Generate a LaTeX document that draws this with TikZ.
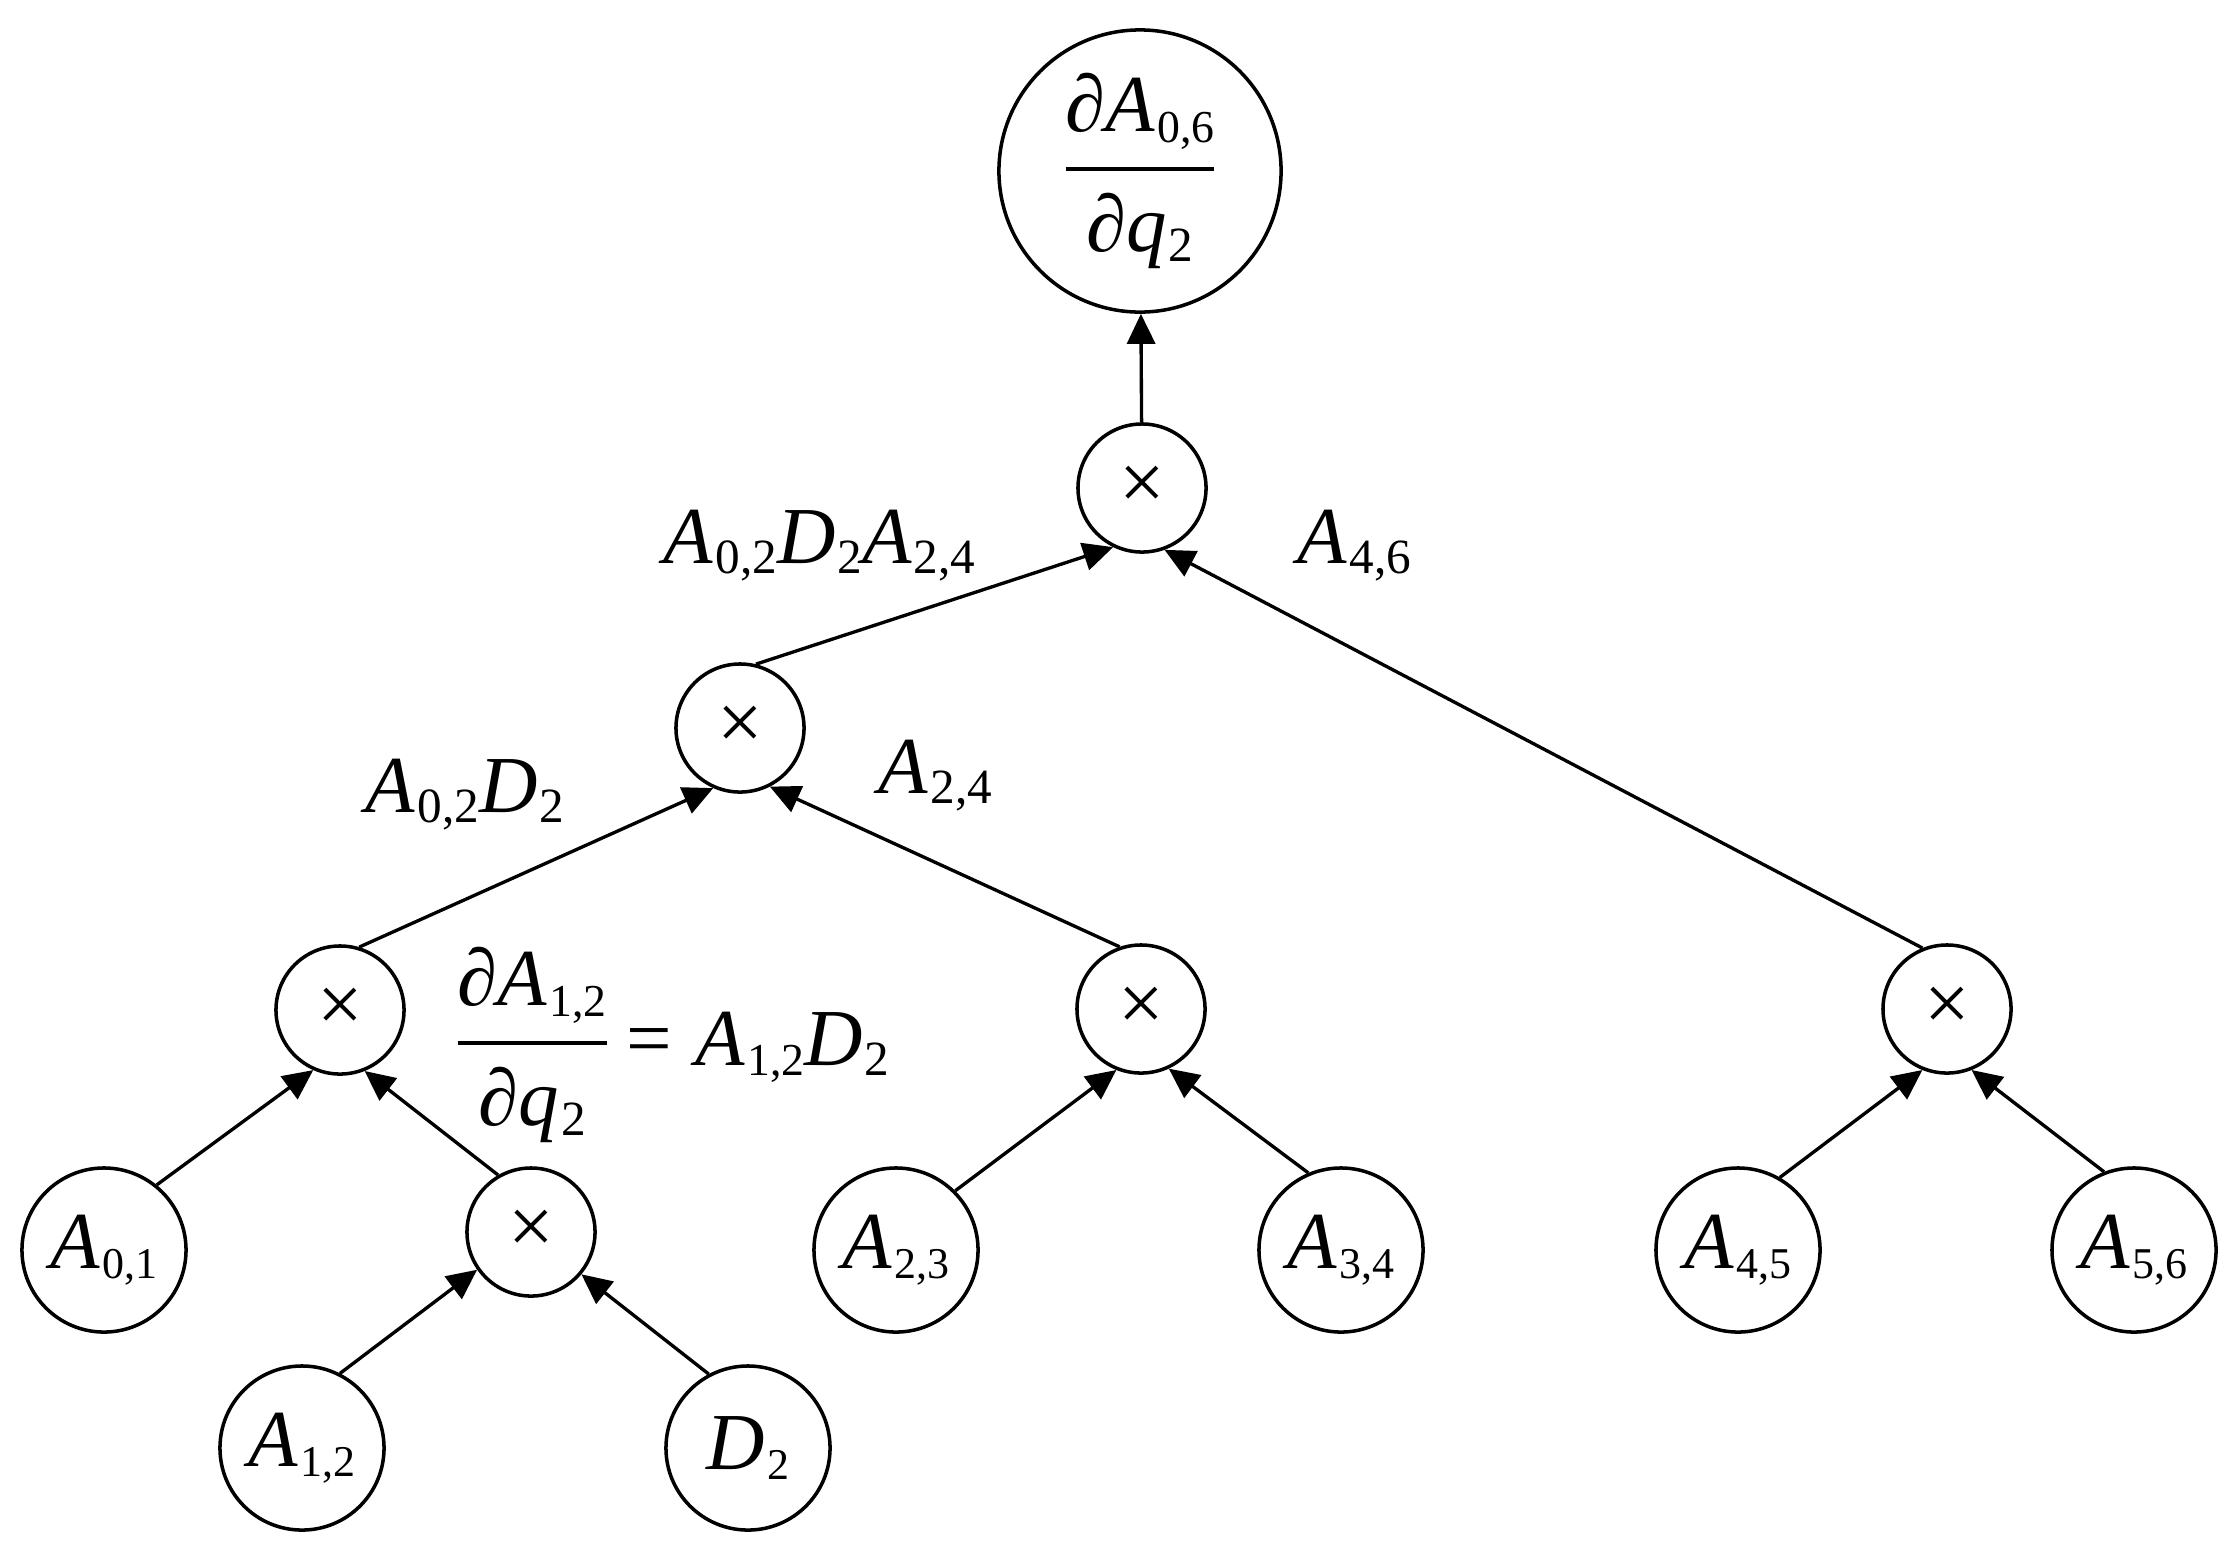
\documentclass[tikz,border=0pt]{standalone}
\usepackage{amsmath}
\usepackage{fontspec}
\setmainfont{Liberation Serif}
\usetikzlibrary{arrows.meta}
\newcommand\Sub[2][12.5]{\kern0.6pt\raisebox{-3pt}{\fontsize{#1}{#1}\selectfont #2}}
\newcommand\Av[1]{\textit{A}\Sub{#1}}
\newcommand\Lv[1]{\textit{A}\Sub[14]{#1}}
\begin{document}
\begin{tikzpicture}[x=0.01cm,y=-0.01cm,
  every node/.style={font=\fontsize{23}{27}\selectfont},
  big/.style={circle,draw,line width=1pt,minimum size=2.82cm,inner sep=0pt},
  mul/.style={circle,draw,line width=1pt,minimum size=1.28cm,inner sep=0pt},
  leaf/.style={circle,draw,line width=1pt,minimum size=1.64cm,inner sep=0pt},
  lbl/.style={anchor=base west,inner sep=0pt},
  arr/.style={line width=0.95pt,-{Triangle[length=0.3cm,width=0.28cm]}}]
\useasboundingbox (0,0) rectangle (2237,1551);
% nodes
\node[big] (top) at (1140,171) {$\genfrac{}{}{1.2pt}{0}{\hbox{∂\textit{A}\Sub[13]{0,6}}}{\hbox{∂\textit{q}\Sub[14]{2}}}$};
\node[mul] (tx) at (1142,488) {×};
\node[mul] (mx) at (740,728) {×};
\node[mul] (lx) at (340,1010) {×};
\node[mul] (cx) at (1141,1009) {×};
\node[mul] (rx) at (1947,1009) {×};
\node[mul] (bx) at (531,1232) {×};
\node[leaf] (A01) at (104,1250) {\Av{0,1}};
\node[leaf] (A12) at (302,1448) {\Av{1,2}};
\node[leaf] (D2) at (748,1448) {\textit{D}\Sub{2}};
\node[leaf] (A23) at (896,1250) {\Av{2,3}};
\node[leaf] (A34) at (1341,1250) {\Av{3,4}};
\node[leaf] (A45) at (1738,1250) {\Av{4,5}};
\node[leaf] (A56) at (2134,1250) {\Av{5,6}};
% labels
\node[lbl] (l1) at (663,563) {\Lv{0,2}\textit{D}\Sub[14]{2}\Lv{2,4}};
\node[lbl] (l2) at (1297,563) {\Lv{4,6}};
\node[lbl] (l3) at (365,812) {\Lv{0,2}\textit{D}\Sub[14]{2}};
\node[lbl] (l4) at (878,793) {\Lv{2,4}};
\node[anchor=west,inner sep=0pt] (eq) at (453,1045) {$\genfrac{}{}{1.2pt}{0}{\hbox{∂\textit{A}\Sub[13]{1,2}}}{\hbox{∂\textit{q}\Sub[14]{2}}}\hbox{\kern4.5pt=\kern6.5pt\textit{A}\Sub[13]{1,2}\textit{D}\Sub[14]{2}}$};
% connectors
\draw[arr] (tx) -- (top);
\draw[arr] (mx.76) -- (tx.244);
\draw[arr] (rx.112) -- (tx.290);
\draw[arr] (lx.73) -- (mx.246);
\draw[arr] (cx.109) -- (mx.297);
\draw[arr] (A01.51) -- (lx.246);
\draw[arr] (bx.120) -- (lx.292);
\draw[arr] (A12.63) -- (bx.215);
\draw[arr] (D2.118) -- (bx.320);
\draw[arr] (A23.45) -- (cx.248);
\draw[arr] (A34.113) -- (cx.295);
\draw[arr] (A45.60) -- (rx.248);
\draw[arr] (A56.111) -- (rx.292);
\end{tikzpicture}
\end{document}
